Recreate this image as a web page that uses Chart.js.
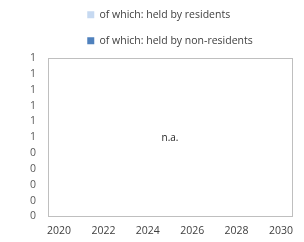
<!DOCTYPE html>
<html><head><meta charset="utf-8">
<script src="https://cdn.jsdelivr.net/npm/chart.js@4/dist/chart.umd.min.js"></script>
<style>html,body{margin:0;padding:0;background:#fff}#w{width:304px;height:242px}</style>
</head><body><div id="w"><canvas id="c"></canvas></div>
<script>
const years = ['2020','2021','2022','2023','2024','2025','2026','2027','2028','2029','2030'];
const residents = [null,null,null,null,null,null,null,null,null,null,null];
const nonResidents = [null,null,null,null,null,null,null,null,null,null,null];
const seriesNames = ['of which: held by residents','of which: held by non-residents'];
const naText = 'n.a.';
const FONT = '"Open Sans", sans-serif';
const LEG_PAD = 15.5;

const frame = {
  id:'frame',
  afterLayout(chart){
    const lg = chart.legend, a = chart.chartArea;
    if (!lg || !lg.lineWidths) return;
    const w = Math.max(...lg.lineWidths) - LEG_PAD;
    const cx = (a.left + a.right) / 2;
    const shift = (cx - w/2 - LEG_PAD) - lg.left;
    lg.left += shift; lg.right += shift;
    lg.top -= 2; lg.bottom -= 2;
  },
  afterDraw(chart){
    const {ctx, chartArea:a} = chart;
    ctx.save();
    ctx.strokeStyle = '#bfbfbf';
    ctx.lineWidth = 1;
    ctx.strokeRect(Math.round(a.left)+0.5, Math.round(a.top)+0.5, Math.round(a.right-a.left), Math.round(a.bottom-a.top));
    ctx.fillStyle = '#262626';
    ctx.font = '10px ' + FONT;
    ctx.textAlign = 'center';
    ctx.textBaseline = 'middle';
    ctx.fillText(naText, (a.left+a.right)/2, (a.top+a.bottom)/2 + 1);
    ctx.restore();
  }
};

new Chart(document.getElementById('c'), {
  type:'bar',
  data:{labels:years, datasets:[
    {label:seriesNames[0], data:residents, backgroundColor:'#c6d9f1', borderWidth:0},
    {label:seriesNames[1], data:nonResidents, backgroundColor:'#4f81bd', borderWidth:0}
  ]},
  options:{
    responsive:true, maintainAspectRatio:false, animation:false,
    layout:{padding:{left:0,right:12,top:-4,bottom:-3}},
    plugins:{
      legend:{position:'top', align:'start', labels:{boxWidth:7, boxHeight:7, padding:LEG_PAD, color:'#404040', font:{family:FONT,size:10.5}}},
      tooltip:{enabled:false}
    },
    scales:{
      x:{grid:{display:false, drawTicks:false, tickLength:0}, border:{display:false},
         ticks:{autoSkip:false, maxRotation:0, color:'#404040', font:{family:FONT,size:10.5}, padding:8,
           callback:function(v,i){return i%2===0 ? this.getLabelForValue(v) : '';}}},
      y:{min:0, max:1, grid:{display:false, drawTicks:false, tickLength:0}, border:{display:false},
         afterFit:(s)=>{s.width=48;},
         ticks:{stepSize:0.1, autoSkip:false, color:'#595959', font:{family:FONT,size:10.5}, padding:12,
           callback:(v)=>String(Math.round(v))}}
    }
  },
  plugins:[frame]
});
</script></body></html>
